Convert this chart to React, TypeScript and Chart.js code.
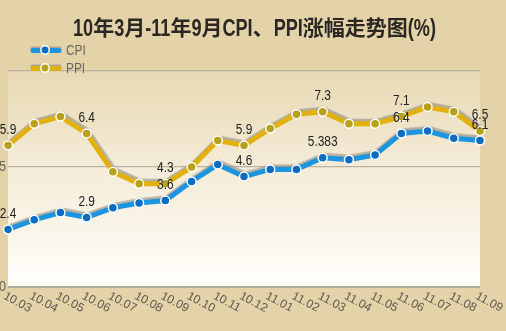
import React, { useEffect, useRef } from "react";
import { Chart, registerables } from "chart.js";

Chart.register(...registerables);

const TITLE = "10年3月-11年9月CPI、PPI涨幅走势图(%)";
const months = [
  "10.03", "10.04", "10.05", "10.06", "10.07", "10.08", "10.09", "10.10", "10.11", "10.12",
  "11.01", "11.02", "11.03", "11.04", "11.05", "11.06", "11.07", "11.08", "11.09",
];
const cpi = [2.4, 2.8, 3.1, 2.9, 3.3, 3.5, 3.6, 4.4, 5.1, 4.6, 4.9, 4.9, 5.383, 5.3, 5.5, 6.4, 6.5, 6.2, 6.1];
const ppi = [5.9, 6.8, 7.1, 6.4, 4.8, 4.3, 4.3, 5.0, 6.1, 5.9, 6.6, 7.2, 7.3, 6.8, 6.8, 7.1, 7.5, 7.3, 6.5];
const labeledIdx = [0, 3, 6, 9, 12, 15, 18];
const yTickLabels = [0, 5];
const yGridValues = [0, 5, 9];
const Y_MIN = 0;
const Y_MAX = 9;
const seriesNames = ["CPI", "PPI"];

const CPI_LINE = "#1b95df";
const CPI_POINT = "#0c6cc2";
const PPI_LINE = "#e2b10d";
const PPI_POINT = "#b7a01a";

function narrowText(ctx: CanvasRenderingContext2D, text: string, x: number, y: number, sx: number, align: CanvasTextAlign) {
  ctx.save();
  ctx.translate(x, y);
  ctx.scale(sx, 1);
  ctx.textAlign = align;
  ctx.fillText(text, 0, 0);
  ctx.restore();
}

const decorPlugin = {
  id: "decor",
  beforeDraw(chart: any) {
    const { ctx, chartArea: a, width, height } = chart;
    ctx.save();
    ctx.fillStyle = "#e4d3a9";
    ctx.fillRect(0, 0, width, height);
    const g = ctx.createLinearGradient(0, a.top, 0, a.bottom);
    g.addColorStop(0, "#e8d9b3");
    g.addColorStop(0.45, "#f4ecd8");
    g.addColorStop(1, "#fffefb");
    ctx.fillStyle = g;
    ctx.fillRect(a.left, a.top, a.right - a.left, a.bottom - a.top);
    ctx.restore();
  },
  beforeDatasetDraw(chart: any, args: any) {
    const ds = chart.data.datasets[args.index];
    if (ds.showLine !== false) {
      const ctx = chart.ctx;
      ctx.save();
      ctx.shadowColor = "rgba(140,135,125,0.6)";
      ctx.shadowOffsetX = 1;
      ctx.shadowOffsetY = -2.5;
      ctx.shadowBlur = 1;
    }
  },
  afterDatasetDraw(chart: any, args: any) {
    const ds = chart.data.datasets[args.index];
    if (ds.showLine !== false) chart.ctx.restore();
  },
  afterDraw(chart: any) {
    const { ctx } = chart;
    const xs = chart.scales.x;
    const ys = chart.scales.y;
    ctx.save();

    // Title (ASCII runs condensed)
    const runs = TITLE.match(/[\x00-\x7F]+|[^\x00-\x7F]+/g) || [];
    const asciiFont = 'bold 24px "Liberation Sans", Arial, sans-serif';
    const cjkFont = 'bold 21px "Noto Sans CJK SC", sans-serif';
    let asciiW = 0, cjkW = 0;
    runs.forEach((r) => {
      if (/^[\x00-\x7F]+$/.test(r)) { ctx.font = asciiFont; asciiW += ctx.measureText(r).width; }
      else { ctx.font = cjkFont; cjkW += ctx.measureText(r).width; }
    });
    const targetW = 363;
    const sx = Math.max(0.5, Math.min(1, (targetW - cjkW) / asciiW));
    const totalW = cjkW + asciiW * sx;
    let tx = 254.5 - totalW / 2;
    ctx.fillStyle = "#2b2722";
    ctx.textBaseline = "alphabetic";
    runs.forEach((r) => {
      if (/^[\x00-\x7F]+$/.test(r)) {
        ctx.font = asciiFont;
        const w = ctx.measureText(r).width;
        narrowText(ctx, r, tx, 36, sx, "left");
        tx += w * sx;
      } else {
        ctx.font = cjkFont;
        ctx.textAlign = "left";
        ctx.fillText(r, tx, 35);
        tx += ctx.measureText(r).width;
      }
    });

    // Legend
    const legendColors = [[CPI_LINE, CPI_POINT], [PPI_LINE, PPI_POINT]];
    seriesNames.forEach((name, i) => {
      const cy = 50 + i * 18;
      ctx.lineCap = "round";
      ctx.strokeStyle = "rgba(150,145,135,0.7)";
      ctx.lineWidth = 5;
      ctx.beginPath(); ctx.moveTo(33, cy - 1); ctx.lineTo(59, cy - 1); ctx.stroke();
      ctx.strokeStyle = legendColors[i][0];
      ctx.beginPath(); ctx.moveTo(33, cy + 0.5); ctx.lineTo(59, cy + 0.5); ctx.stroke();
      ctx.beginPath(); ctx.arc(45, cy, 4.2, 0, Math.PI * 2);
      ctx.fillStyle = legendColors[i][1]; ctx.fill();
      ctx.lineWidth = 1.5; ctx.strokeStyle = "#ffffff"; ctx.stroke();
      ctx.fillStyle = "#6b665c";
      ctx.font = '14px "Liberation Sans", Arial, sans-serif';
      ctx.textBaseline = "middle";
      narrowText(ctx, name, 66, cy + 1, 0.85, "left");
    });

    // Y tick labels
    ctx.fillStyle = "#6b665c";
    ctx.font = '14px "Liberation Sans", Arial, sans-serif';
    ctx.textBaseline = "middle";
    yTickLabels.forEach((v) => {
      narrowText(ctx, String(v), 6, ys.getPixelForValue(v), 0.9, "right");
    });

    // X tick labels (rotated clockwise)
    ctx.font = '12px "Liberation Sans", Arial, sans-serif';
    ctx.fillStyle = "#5e594f";
    ctx.textBaseline = "top";
    ctx.textAlign = "left";
    months.forEach((m, i) => {
      const x = xs.getPixelForValue(i);
      ctx.save();
      ctx.translate(x - 1, ys.bottom + 3);
      ctx.rotate((28 * Math.PI) / 180);
      ctx.fillText(m, 0, 0);
      ctx.restore();
    });

    // Data labels
    ctx.fillStyle = "#222222";
    ctx.font = '14px "Liberation Sans", Arial, sans-serif';
    ctx.textBaseline = "middle";
    [ppi, cpi].forEach((arr) => {
      labeledIdx.forEach((i) => {
        const x = xs.getPixelForValue(i);
        const y = ys.getPixelForValue(arr[i]);
        narrowText(ctx, String(arr[i]), x, y - 15.5, 0.85, "center");
      });
    });

    ctx.restore();
  },
};

export default function App() {
  const ref = useRef<HTMLCanvasElement | null>(null);
  useEffect(() => {
    if (!ref.current) return;
    const chart = new Chart(ref.current, {
      type: "line",
      data: {
        labels: months,
        datasets: [
          { label: "CPI", data: cpi, borderColor: CPI_LINE, borderWidth: 5, pointRadius: 0, tension: 0, clip: false, order: 2, fill: false },
          { label: "PPI", data: ppi, borderColor: PPI_LINE, borderWidth: 5, pointRadius: 0, tension: 0, clip: false, order: 2, fill: false },
          { label: "CPI", data: cpi, showLine: false, pointRadius: 4.5, pointBackgroundColor: CPI_POINT, pointBorderColor: "#ffffff", pointBorderWidth: 1.5, clip: false, order: 0 },
          { label: "PPI", data: ppi, showLine: false, pointRadius: 4.5, pointBackgroundColor: PPI_POINT, pointBorderColor: "#ffffff", pointBorderWidth: 1.5, clip: false, order: 1 },
        ],
      },
      options: {
        responsive: false,
        animation: false,
        layout: { padding: { top: 71, left: 8, right: 26, bottom: 44 } },
        plugins: { legend: { display: false }, title: { display: false }, tooltip: { enabled: false } },
        scales: {
          x: {
            offset: false,
            ticks: { display: false },
            grid: { display: false, drawTicks: false },
            border: { display: false },
            afterFit: (s: any) => { s.height = 0; },
          },
          y: {
            min: Y_MIN,
            max: Y_MAX,
            ticks: { display: false },
            afterBuildTicks: (axis: any) => { axis.ticks = yGridValues.map((v) => ({ value: v })); },
            grid: {
              drawTicks: false,
              color: (c: any) => (c.tick && c.tick.value === 0 ? "#b3ad9f" : "#b9b2a2"),
              lineWidth: (c: any) => (c.tick && c.tick.value === 0 ? 2 : 1.2),
            },
            border: { display: false },
            afterFit: (s: any) => { s.width = 0; },
          },
        },
      },
      plugins: [decorPlugin],
    } as any);
    return () => chart.destroy();
  }, []);
  return (
    <div style={{ position: "absolute", left: 0, top: 0, width: 506, height: 331 }}>
      <canvas ref={ref} width={506} height={331} style={{ display: "block", width: 506, height: 331 }} />
    </div>
  );
}
